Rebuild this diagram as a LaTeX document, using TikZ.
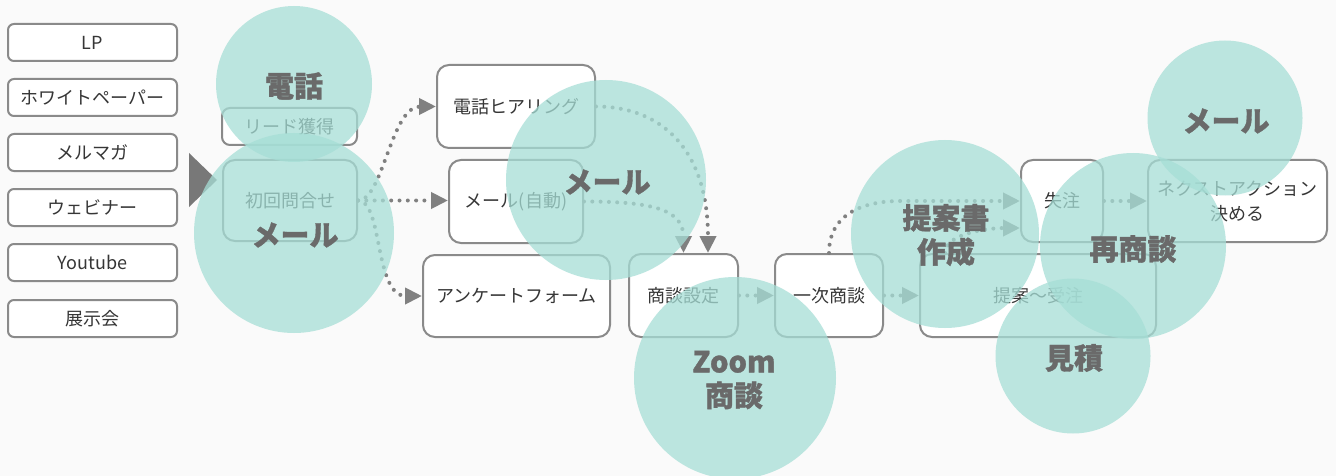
\documentclass[tikz,border=0pt]{standalone}
\usepackage{fontspec}
\setmainfont{Noto Sans CJK JP}
\newfontfamily\lblfont{Noto Sans CJK JP}[BoldFeatures={FakeBold=1.2}]
\usetikzlibrary{arrows.meta}
\definecolor{bord}{HTML}{8A8A8A}
\definecolor{connc}{HTML}{808080}
\definecolor{tealc}{HTML}{A6DED6}
\definecolor{lab}{HTML}{6A6A6A}
\definecolor{txt}{HTML}{363636}
\definecolor{tri}{HTML}{787878}
\definecolor{bg}{HTML}{FAFAFA}
\begin{document}
\begin{tikzpicture}[x=1pt,y=-1pt,
  box/.style={draw=bord, line width=2pt, rounded corners=12pt, fill=white, text=txt,
    font=\fontsize{18}{25}\selectfont, inner sep=0pt, align=center},
  lbox/.style={box, rounded corners=6pt, minimum width=169pt, minimum height=37pt},
  conn/.style={draw=connc, line width=4pt, line cap=round, dash pattern=on 0pt off 8.3pt,
    -{Triangle[length=17pt,width=16pt]}},
  circ/.style={circle, fill=tealc, fill opacity=0.75, inner sep=0pt, draw=none},
  lbl/.style={text=lab, font=\lblfont\fontsize{29}{34}\selectfont\bfseries, align=center}
]
\useasboundingbox (0,0) rectangle (1336,476);
\fill[bg] (0,0) rectangle (1336,476);

% left column
\node[lbox] (lp) at (92.5,42.5) {LP};
\node[lbox] (wp) at (92.5,97.5) {ホワイトペーパー};
\node[lbox] (mm) at (92.5,152.5) {メルマガ};
\node[lbox] (web) at (92.5,207.5) {ウェビナー};
\node[lbox] (yt) at (92.5,262.5) {Youtube};
\node[lbox] (ten) at (92.5,318.5) {展示会};

% boxes
\node[box, rounded corners=8pt, minimum width=135pt, minimum height=37pt] (lead) at (289.5,126.5) {リード獲得};
\node[box, minimum width=134pt, minimum height=81pt] (shokai) at (290,200.5) {初回問合せ};
\node[box, minimum width=158pt, minimum height=83pt] (denwa) at (516,106.5) {電話ヒアリング};
\node[box, minimum width=134pt, minimum height=83pt] (mailA) at (516,201.5) {メール(自動)};
\node[box, minimum width=187pt, minimum height=82pt] (enq) at (516.5,296) {アンケートフォーム};
\node[box, minimum width=109pt, minimum height=83pt] (shodan) at (683.5,295.5) {商談設定};
\node[box, minimum width=108pt, minimum height=83pt] (ichiji) at (829,295.5) {一次商談};
\node[box, minimum width=236pt, minimum height=83pt] (teian) at (1038,295.5) {提案〜受注};
\node[box, minimum width=82pt, minimum height=82pt] (shicchu) at (1062,201) {失注};
\node[box, minimum width=179pt, minimum height=82pt] (next) at (1237.5,201) {ネクストアクション\\決める};

% connectors
\draw[conn] (shokai.east) .. controls +(25,0) and +(-45,0) .. (denwa.west);
\draw[conn] (shokai.east) -- (shokai.east -| mailA.west);
\draw[conn] (shokai.east) .. controls +(25,0) and +(-48,0) .. (enq.west);
\draw[conn] (denwa.east) .. controls +(65,0) and +(0,-104) .. ([xshift=24.5pt]shodan.north);
\draw[conn] (mailA.east) .. controls +(67,0) and +(0,-44) .. (shodan.north);
\draw[conn] (shodan.east) -- (ichiji.west);
\draw[conn] (ichiji.east) -- (teian.west);
\coordinate (k1) at (900,201);
\draw[conn] (ichiji.north) .. controls +(0,-44) and +(-28,0) .. (k1) -- (shicchu.west);
\draw[conn] ([xshift=-93pt]teian.north) .. controls +(0,-20) and +(-30,0) .. ([yshift=-27pt]shicchu.west);
\draw[conn] (shicchu.east) -- (next.west);

% triangle
\fill[tri] (189,153) -- (189,207) -- (217,180) -- cycle;

% circles
\node[circ, minimum size=156pt] (c1) at (294,84) {};
\node[circ, minimum size=200pt] (c2) at (294,233) {};
\node[circ, minimum size=200pt] (c3) at (606,180) {};
\node[circ, minimum size=202pt] (c4) at (735,378) {};
\node[circ, minimum size=188pt] (c5) at (945,234) {};
\node[circ, minimum size=186pt] (c6) at (1133,246) {};
\node[circ, minimum size=155pt] (c7) at (1073,356) {};
\node[circ, minimum size=155pt] (c8) at (1225,118) {};

% labels
\node[lbl] (l1) at (294,86) {電話};
\node[lbl] (l2) at (295,235) {メール};
\node[lbl] (l3) at (607,182) {メール};
\node[lbl] (l4) at (734,380) {Zoom\\商談};
\node[lbl] (l5) at (946,235) {提案書\\作成};
\node[lbl] (l6) at (1133,249) {再商談};
\node[lbl] (l7) at (1074,358) {見積};
\node[lbl] (l8) at (1226,121) {メール};
\end{tikzpicture}
\end{document}
